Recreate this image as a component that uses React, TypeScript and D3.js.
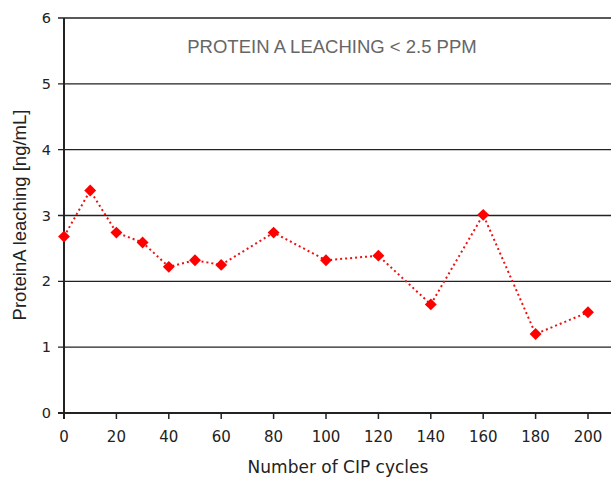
import React from 'react';
import { useRef, useEffect } from 'react';
import * as d3 from 'd3';

const cycles = [0, 10, 20, 30, 40, 50, 60, 80, 100, 120, 140, 160, 180, 200];
const leaching = [2.68, 3.38, 2.74, 2.59, 2.22, 2.32, 2.25, 2.74, 2.32, 2.39, 1.65, 3.01, 1.2, 1.53];
const xTicks = [0, 20, 40, 60, 80, 100, 120, 140, 160, 180, 200];
const yTicks = [0, 1, 2, 3, 4, 5, 6];

export default function App() {
  const svgRef = useRef<SVGSVGElement>(null);

  useEffect(() => {
    const w = 611;
    const h = 479;
    const svg = d3.select(svgRef.current);
    svg.selectAll('*').remove();
    svg.attr('width', w).attr('height', h).style('display', 'block');

    const x = d3.scaleLinear().domain([0, 200]).range([64, 588]);
    const y = d3.scaleLinear().domain([0, 6]).range([413, 18]);
    const arial = 'Liberation Sans, Arial, sans-serif';
    const wide = 'DejaVu Sans, Verdana, sans-serif';

    // horizontal grid lines + y ticks
    svg
      .selectAll('line.grid')
      .data(yTicks)
      .join('line')
      .attr('class', 'grid')
      .attr('x1', 58)
      .attr('x2', w)
      .attr('y1', (d) => y(d))
      .attr('y2', (d) => y(d))
      .attr('stroke', '#222')
      .attr('stroke-width', (d) => (d === 0 ? 2 : 1.4));

    svg
      .selectAll('text.ytick')
      .data(yTicks)
      .join('text')
      .attr('class', 'ytick')
      .attr('x', 51)
      .attr('y', (d) => y(d) + 5)
      .attr('text-anchor', 'end')
      .style('font-family', wide)
      .style('font-size', '14.5px')
      .style('fill', '#222')
      .text((d) => d);

    // y axis line
    svg
      .append('line')
      .attr('x1', x(0))
      .attr('x2', x(0))
      .attr('y1', y(6))
      .attr('y2', y(0) + 6)
      .attr('stroke', '#222')
      .attr('stroke-width', 2);

    // x ticks
    svg
      .selectAll('line.xtick')
      .data(xTicks)
      .join('line')
      .attr('class', 'xtick')
      .attr('x1', (d) => x(d))
      .attr('x2', (d) => x(d))
      .attr('y1', y(0))
      .attr('y2', y(0) + 6)
      .attr('stroke', '#222')
      .attr('stroke-width', 1.5);

    svg
      .selectAll('text.xlab')
      .data(xTicks)
      .join('text')
      .attr('class', 'xlab')
      .attr('x', (d) => x(d))
      .attr('y', 442)
      .attr('text-anchor', 'middle')
      .style('font-family', wide)
      .style('font-size', '15px')
      .style('fill', '#222')
      .text((d) => d);

    // dotted line
    const line = d3
      .line<number>()
      .x((d, i) => x(cycles[i]))
      .y((d) => y(d));
    svg
      .append('path')
      .datum(leaching)
      .attr('d', line)
      .attr('fill', 'none')
      .attr('stroke', '#ee1111')
      .attr('stroke-width', 2)
      .attr('stroke-dasharray', '2,3');

    // diamond markers
    const diamond = d3.symbol().type(d3.symbolDiamond2).size(90);
    svg
      .selectAll('path.pt')
      .data(leaching)
      .join('path')
      .attr('class', 'pt')
      .attr('d', diamond)
      .attr('transform', (d, i) => `translate(${x(cycles[i])},${y(d)})`)
      .attr('fill', '#ff0000');

    // annotation
    svg
      .append('text')
      .attr('x', 332)
      .attr('y', 53)
      .attr('text-anchor', 'middle')
      .style('font-family', arial)
      .style('font-size', '18.5px')
      .style('fill', '#666')
      .text('PROTEIN A LEACHING < 2.5 PPM');

    // axis titles
    svg
      .append('text')
      .attr('x', 338)
      .attr('y', 473)
      .attr('text-anchor', 'middle')
      .style('font-family', wide)
      .style('font-size', '17px')
      .style('fill', '#222')
      .text('Number of CIP cycles');

    svg
      .append('text')
      .attr('transform', `translate(26, 215) rotate(-90)`)
      .attr('text-anchor', 'middle')
      .style('font-family', arial)
      .style('font-size', '18.5px')
      .style('fill', '#222')
      .text('ProteinA leaching [ng/mL]');
  }, []);

  return (
    <div style={{ position: 'absolute', left: 0, top: 0 }}>
      <svg ref={svgRef}></svg>
    </div>
  );
}
